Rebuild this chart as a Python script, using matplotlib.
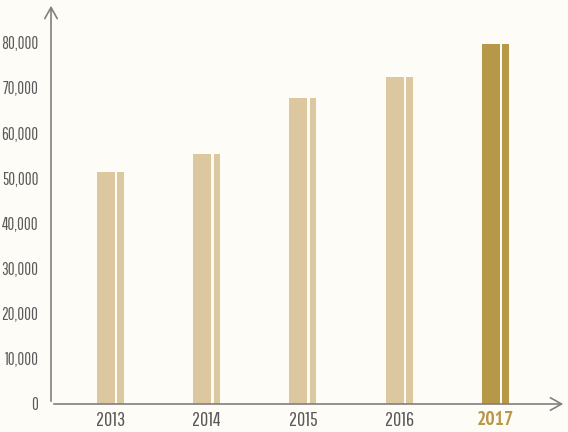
import matplotlib
matplotlib.use("Agg")
import matplotlib.pyplot as plt
from matplotlib.ticker import FuncFormatter

years = ["2013", "2014", "2015", "2016", "2017"]
values = [51300, 55300, 67700, 72300, 79600]
yticks = [0, 10000, 20000, 30000, 40000, 50000, 60000, 70000, 80000]

light = "#dcc79f"
dark = "#b79748"
bg = "#fefcf7"
textc = "#5a5a5a"
axc = "#808080"

plt.rcParams["font.family"] = ["Pathway Gothic One", "DejaVu Sans"]

fig = plt.figure(figsize=(5.68, 4.32), dpi=100, facecolor=bg)
ax = fig.add_axes([51/568, 28/432, (566-51)/568, (404-3)/432])
ax.set_facecolor("none")

x = list(range(len(years)))
total_w = 0.2805
wide_w = 0.187
gap = 0.026
narrow_w = 0.0675
colors = [light]*4 + [dark]
lefts = [xi - total_w/2 for xi in x]
ax.bar(lefts, values, width=wide_w, align="edge", color=colors, linewidth=0)
ax.bar([l + wide_w + gap for l in lefts], values, width=narrow_w, align="edge",
       color=colors, linewidth=0)

ax.set_xlim(-0.618, 4.733)
ax.set_ylim(0, 88736)

for s in ax.spines.values():
    s.set_visible(False)

ax.annotate("", xy=(0, 1), xytext=(0, 0), xycoords="axes fraction",
            arrowprops=dict(arrowstyle="->,head_length=0.8,head_width=0.45", color=axc, lw=1.2))
ax.annotate("", xy=(1, 0), xytext=(0, 0), xycoords="axes fraction",
            arrowprops=dict(arrowstyle="->,head_length=0.8,head_width=0.45", color=axc, lw=1.2))

ax.set_yticks(yticks)
ax.yaxis.set_major_formatter(FuncFormatter(lambda v, p: f"{int(v):,}"))
ax.tick_params(axis="y", length=0, pad=9, labelsize=12, labelcolor=textc)
ax.set_xticks(x)
ax.set_xticklabels(years)
ax.tick_params(axis="x", length=0, pad=5, labelsize=14.5, labelcolor=textc)
lbl = ax.get_xticklabels()[-1]
lbl.set_color(dark)
lbl.set_fontweight("bold")
lbl.set_family(["PT Sans Narrow", "DejaVu Sans"])
lbl.set_fontsize(14)

fig.savefig("out.png", dpi=100, facecolor=bg)
